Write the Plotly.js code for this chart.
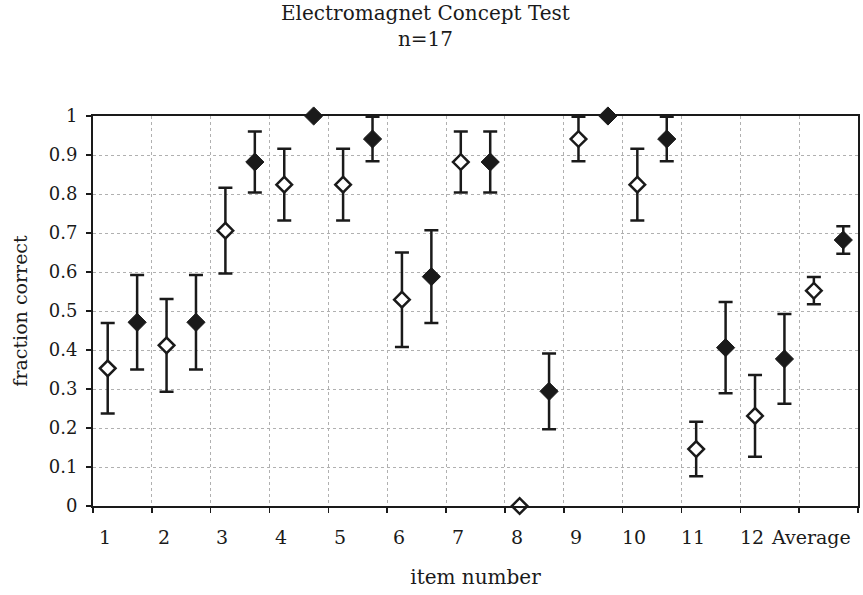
<!DOCTYPE html>
<html>
<head>
<meta charset="utf-8">
<script src="https://cdn.plot.ly/plotly-3.0.1.min.js"></script>
<style>html,body{margin:0;padding:0;background:#fff;}#chart{width:863px;height:595px;}</style>
</head>
<body>
<div id="chart"></div>
<script>
// Categories (item numbers)
const categories = ["1","2","3","4","5","6","7","8","9","10","11","12","Average"];
// Open-diamond series: fraction correct and error bar half-length
const openValues = [0.353, 0.412, 0.706, 0.824, 0.824, 0.529, 0.882, 0, 0.941, 0.824, 0.146, 0.231, 0.552];
const openErrors = [0.116, 0.119, 0.110, 0.092, 0.092, 0.121, 0.078, 0, 0.057, 0.092, 0.070, 0.105, 0.035];
// Filled-diamond series
const filledValues = [0.471, 0.471, 0.882, 1.0, 0.941, 0.588, 0.882, 0.294, 1.0, 0.941, 0.406, 0.377, 0.682];
const filledErrors = [0.121, 0.121, 0.078, 0, 0.057, 0.119, 0.078, 0.097, 0, 0.057, 0.117, 0.115, 0.035];
const yTickVals = [0, 0.1, 0.2, 0.3, 0.4, 0.5, 0.6, 0.7, 0.8, 0.9, 1];

const FONT = "DejaVu Serif, Liberation Serif, serif";
const INK = "#1a1a1a";
const idx = categories.map((c, i) => i);

const openTrace = {
  type: "scatter", mode: "markers", name: "open",
  x: idx.map(i => i + 0.25), y: openValues,
  cliponaxis: false,
  marker: {symbol: "diamond", size: 12, color: "#ffffff", line: {color: INK, width: 2.5}},
  error_y: {type: "data", array: openErrors, visible: true, color: INK, thickness: 2.5, width: 7}
};
const filledTrace = {
  type: "scatter", mode: "markers", name: "filled",
  x: idx.map(i => i + 0.75), y: filledValues,
  cliponaxis: false,
  marker: {symbol: "diamond", size: 14, color: INK, line: {color: INK, width: 1}},
  error_y: {type: "data", array: filledErrors, visible: true, color: INK, thickness: 2.5, width: 7}
};

// category tick labels, placed through the x axis scale
const tickLabels = categories.map((c, i) => ({
  text: c, x: i + 0.2, xref: "x", y: 0, yref: "paper",
  yanchor: "top", xanchor: "center", yshift: -18, showarrow: false,
  font: {family: FONT, size: 19, color: INK}
}));

const layout = {
  width: 863, height: 595,
  paper_bgcolor: "#ffffff", plot_bgcolor: "#ffffff",
  showlegend: false,
  margin: {l: 93, r: 5, t: 116, b: 89},
  font: {family: FONT, color: INK, size: 18},
  title: {
    text: "Electromagnet Concept Test<br>n=17",
    font: {family: FONT, size: 20, color: INK},
    x: 0.493, xanchor: "center", xref: "container",
    y: 0.966, yanchor: "top"
  },
  xaxis: {
    range: [0, categories.length], tickmode: "linear", tick0: 0, dtick: 1,
    showticklabels: false, ticks: "outside", ticklen: 5, tickwidth: 1.5, tickcolor: INK,
    showgrid: true, gridcolor: "#b0b0b0", griddash: "dot", gridwidth: 1,
    showline: true, linecolor: INK, linewidth: 2, mirror: true,
    zeroline: false,
    title: {text: "item number", font: {family: FONT, size: 20, color: INK}, standoff: 58}
  },
  yaxis: {
    range: [0, 1], tickmode: "array", tickvals: yTickVals,
    ticks: "outside", ticklen: 5, tickwidth: 1.5, tickcolor: INK,
    ticklabelstandoff: 5,
    tickfont: {family: FONT, size: 18, color: INK},
    showgrid: true, gridcolor: "#b0b0b0", griddash: "dot", gridwidth: 1,
    showline: true, linecolor: INK, linewidth: 2, mirror: true,
    zeroline: false,
    title: {text: "fraction correct", font: {family: FONT, size: 19, color: INK}, standoff: 16}
  },
  annotations: tickLabels
};

Plotly.newPlot("chart", [openTrace, filledTrace], layout, {displayModeBar: false, staticPlot: true});
</script>
</body>
</html>
